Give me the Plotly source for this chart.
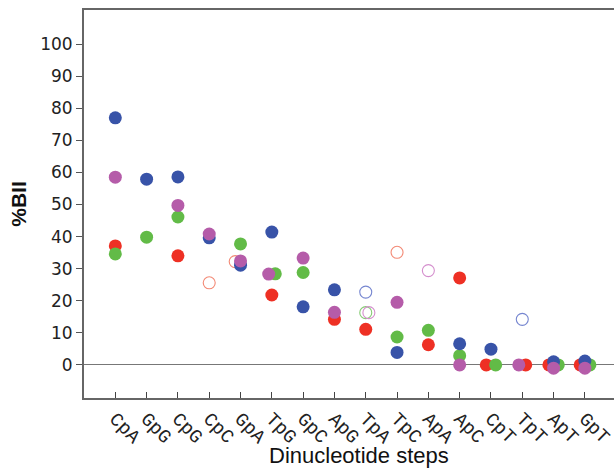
import plotly.graph_objects as go

categories = ["CpA", "GpG", "CpG", "CpC", "GpA", "TpG", "GpC", "ApG",
              "TpA", "TpC", "ApA", "ApC", "CpT", "TpT", "ApT", "GpT"]

# filled markers (None = no point)
blue_filled = [77.0, 57.9, 58.6, 39.6, 31.1, 41.4, 18.1, 23.4,
               None, 3.9, None, 6.6, 4.9, None, 1.0, 1.2]
red_filled = [37.1, None, 34.0, None, None, 21.8, None, 14.2,
              11.1, None, 6.3, 27.1, 0.0, 0.0, 0.0, 0.0]
green_filled = [34.6, 39.8, 46.1, None, 37.7, 28.4, 28.8, None,
                None, 8.7, 10.8, 2.9, 0.0, None, 0.0, 0.0]
magenta_filled = [58.5, None, 49.7, 40.8, 32.4, 28.3, 33.3, 16.4,
                  None, 19.5, None, 0.0, None, 0.0, -1.0, -1.0]

# open markers
blue_open = [None] * 8 + [22.7, None, None, None, None, 14.2, None, None]
red_open = [None, None, None, 25.6, 32.2, None, None, None,
            None, 35.1, None, None, None, None, None, None]
green_open = [None] * 8 + [16.3] + [None] * 7
magenta_open = [None] * 8 + [16.3, None, 29.4] + [None] * 5

# --- style: small horizontal nudges (category units) to separate overlapping dots
nudge = {
    ("red_open", "GpA"): -0.17,
    ("magenta", "TpG"): -0.10, ("green", "TpG"): 0.11,
    ("magenta_open", "TpA"): 0.10,
    ("red", "CpT"): -0.15, ("green", "CpT"): 0.15,
    ("magenta", "TpT"): -0.11, ("red", "TpT"): 0.11,
    ("red", "ApT"): -0.15, ("green", "ApT"): 0.15,
    ("red", "GpT"): -0.15, ("green", "GpT"): 0.16,
}

colors = {"blue": "#3853a8", "red": "#ee3024", "green": "#62bb47", "magenta": "#b55ca9"}
open_colors = {"blue": "#7686d0", "red": "#f38a76", "green": "#86cc74", "magenta": "#d48ecd"}


def xy(name, vals):
    xs, ys = [], []
    for i, (c, v) in enumerate(zip(categories, vals)):
        if v is None:
            continue
        xs.append(i + nudge.get((name, c), 0.0))
        ys.append(v)
    return xs, ys


fig = go.Figure()

filled = [("red", red_filled), ("green", green_filled),
          ("blue", blue_filled), ("magenta", magenta_filled)]
opens = [("red", red_open), ("blue", blue_open),
         ("green", green_open), ("magenta", magenta_open)]

for name, vals in opens:
    xs, ys = xy(name + "_open", vals)
    fig.add_trace(go.Scatter(x=xs, y=ys, mode="markers", showlegend=False,
                             marker=dict(symbol="circle-open", size=12,
                                         color=open_colors[name],
                                         line=dict(width=1.1, color=open_colors[name]))))
for name, vals in filled:
    xs, ys = xy(name, vals)
    fig.add_trace(go.Scatter(x=xs, y=ys, mode="markers", showlegend=False,
                             marker=dict(symbol="circle", size=13,
                                         color=colors[name],
                                         line=dict(width=0))))

fig.update_layout(
    width=614, height=469,
    margin=dict(l=84, r=0, t=10, b=71),
    plot_bgcolor="white", paper_bgcolor="white",
    font=dict(family="DejaVu Sans", color="#222"),
    xaxis=dict(
        range=[-1, 15.93],
        tickmode="array", tickvals=list(range(len(categories))), ticktext=categories,
        tickangle=45,
        tickfont=dict(family="Liberation Mono", size=19, color="#222"),
        ticks="inside", ticklen=6, tickcolor="#444", tickwidth=1.2,
        showline=True, linecolor="#666", linewidth=2, mirror=True,
        showgrid=False, zeroline=False,
    ),
    yaxis=dict(
        range=[-10.3, 110.6],
        tickvals=[0, 10, 20, 30, 40, 50, 60, 70, 80, 90, 100],
        tickfont=dict(family="DejaVu Sans", size=17, color="#222"),
        ticks="outside", ticklen=6, tickcolor="#555", tickwidth=1.2,
        showline=True, linecolor="#666", linewidth=2,
        showgrid=False,
        zeroline=True, zerolinecolor="#777", zerolinewidth=1.2,
        title=dict(text="<b>%BII</b>",
                   font=dict(family="Liberation Sans", size=21, color="#111"),
                   standoff=8),
    ),
    annotations=[dict(
        text="Dinucleotide steps", xref="paper", yref="paper",
        x=0.519, y=-0.149, xanchor="center", yanchor="middle", showarrow=False,
        borderpad=0,
        font=dict(family="Liberation Sans", size=22, color="#111"),
    )],
)

fig.write_html("out.html")
